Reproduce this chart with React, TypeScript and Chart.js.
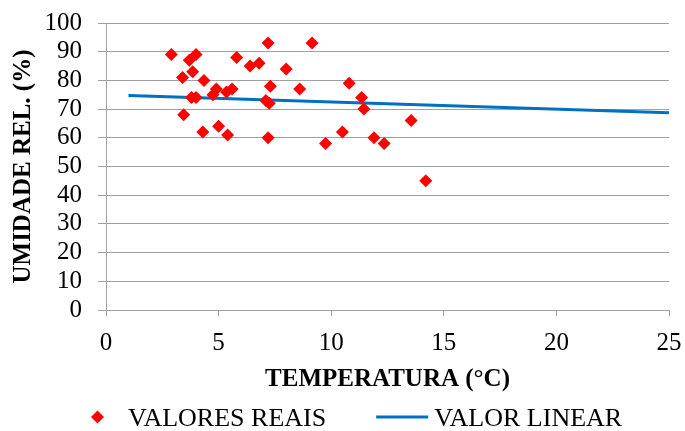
import React, { useEffect, useRef } from "react";
import { Chart, registerables } from "chart.js";

Chart.register(...registerables);

// ---- data ----
const tempReal = [
  2.9, 4.0, 3.7, 3.85, 3.4, 4.35, 3.8, 4.0, 3.45, 4.3, 5.0, 5.4, 4.75, 4.9, 5.35, 5.6, 5.8, 6.4,
  6.8, 7.2, 7.3, 7.1, 7.25, 7.2, 8.0, 8.6, 9.15, 9.75, 10.5, 10.8, 11.35, 11.45, 11.9, 12.35,
  13.55, 14.2,
];
const humReal = [
  89, 89, 87, 83, 81, 80, 74, 74, 68, 62, 64, 61, 75, 77, 76, 77, 88, 85, 86, 93, 78, 73, 72, 60,
  84, 77, 93, 58, 62, 79, 74, 70, 60, 58, 66, 45,
];
const tempLinear = [1, 25];
const humLinear = [74.7, 68.7];

const seriesNames = ["VALORES REAIS", "VALOR LINEAR"];
const xTitle = "TEMPERATURA (°C)";
const yTitle = "UMIDADE REL. (%)";

const SERIF = "'Liberation Serif', 'Times New Roman', serif";
const GRID = "#a0a0a0";
const RED = "#ff0000";
const BLUE = "#0070c0";

const legendPlugin = {
  id: "bottomLegend",
  afterDraw(chart: any) {
    const ctx = chart.ctx as CanvasRenderingContext2D;
    ctx.save();
    ctx.font = `26px ${SERIF}`;
    const w1 = ctx.measureText(seriesNames[0]).width;
    let x = chart.chartArea.left - 15;
    const y = chart.height - 14;
    // diamond marker
    const cx = x + 6.5;
    ctx.fillStyle = RED;
    ctx.beginPath();
    ctx.moveTo(cx - 6.5, y);
    ctx.lineTo(cx, y - 6.5);
    ctx.lineTo(cx + 6.5, y);
    ctx.lineTo(cx, y + 6.5);
    ctx.closePath();
    ctx.fill();
    x += 13 + 24;
    ctx.fillStyle = "#000";
    ctx.textBaseline = "alphabetic";
    ctx.textAlign = "left";
    ctx.fillText(seriesNames[0], x, y + 9);
    x += w1 + 50;
    // line marker
    ctx.strokeStyle = BLUE;
    ctx.lineWidth = 3;
    ctx.beginPath();
    ctx.moveTo(x, y);
    ctx.lineTo(x + 52, y);
    ctx.stroke();
    x += 52 + 6;
    ctx.fillText(seriesNames[1], x, y + 9);
    ctx.restore();
  },
};

export default function App() {
  const ref = useRef<HTMLCanvasElement | null>(null);

  useEffect(() => {
    if (!ref.current) return;
    const chart = new Chart(ref.current, {
      type: "scatter",
      data: {
        datasets: [
          {
            label: seriesNames[0],
            data: tempReal.map((t, i) => ({ x: t, y: humReal[i] })),
            backgroundColor: RED,
            borderColor: RED,
            borderWidth: 0,
            pointStyle: "rectRot",
            pointRadius: 6.5,
            order: 0,
          },
          {
            type: "line",
            label: seriesNames[1],
            data: tempLinear.map((t, i) => ({ x: t, y: humLinear[i] })),
            borderColor: BLUE,
            backgroundColor: BLUE,
            borderWidth: 3,
            pointRadius: 0,
            showLine: true,
            fill: false,
            order: 1,
          } as any,
        ],
      },
      options: {
        animation: false,
        responsive: false,
        maintainAspectRatio: false,
        layout: { padding: { left: 9, top: 23, right: 16, bottom: 36 } },
        plugins: {
          legend: { display: false },
          tooltip: { enabled: false },
        },
        scales: {
          x: {
            type: "linear",
            min: 0,
            max: 25,
            ticks: {
              stepSize: 5,
              padding: 12,
              autoSkip: false,
              maxRotation: 0,
              color: "#000",
              font: { family: SERIF, size: 25 },
            },
            grid: {
              drawOnChartArea: false,
              drawTicks: true,
              tickLength: 6,
              color: GRID,
            },
            border: { display: true, color: GRID, width: 1 },
            title: {
              display: true,
              text: xTitle,
              color: "#000",
              font: { family: SERIF, size: 25, weight: "bold" },
              padding: 0,
            },
            afterFit: (s: any) => {
              s.height = 85;
              s.paddingLeft = 0;
              s.paddingRight = 0;
            },
          },
          y: {
            type: "linear",
            min: 0,
            max: 100,
            ticks: {
              stepSize: 10,
              padding: 16,
              autoSkip: false,
              color: "#000",
              font: { family: SERIF, size: 25 },
            },
            grid: {
              drawOnChartArea: true,
              drawTicks: true,
              tickLength: 8,
              color: GRID,
            },
            border: { display: true, color: GRID, width: 1 },
            title: {
              display: true,
              text: yTitle,
              color: "#000",
              font: { family: SERIF, size: 25, weight: "bold" },
              padding: 0,
            },
            afterFit: (s: any) => {
              s.width = 97;
              s.paddingTop = 0;
              s.paddingBottom = 0;
            },
          },
        },
      },
      plugins: [legendPlugin],
    });
    return () => chart.destroy();
  }, []);

  return (
    <div style={{ position: "fixed", left: 0, top: 0, width: 685, height: 431, background: "#fff" }}>
      <canvas ref={ref} width={685} height={431} style={{ display: "block" }} />
    </div>
  );
}
